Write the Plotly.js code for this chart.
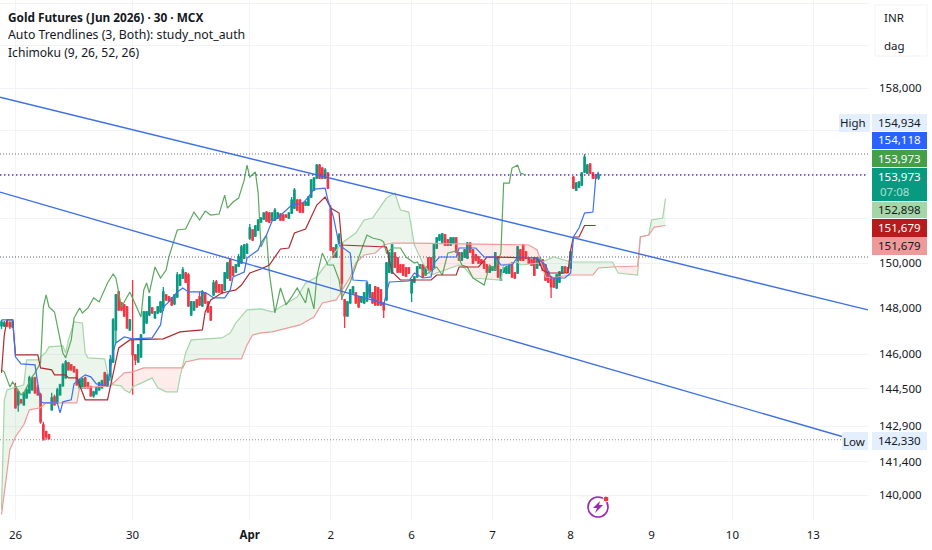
<!DOCTYPE html>
<html><head><meta charset="utf-8">
<script src="https://cdn.plot.ly/plotly-3.0.1.min.js"></script>
<style>html,body{margin:0;padding:0;background:#fff;overflow:hidden}#c{width:932px;height:550px}</style>
</head><body><div id="c"></div>
<script>
// ---- candles, one entry per 30-minute bar ----
const opens=[147223,147223,147397,147353,147180,144584,143815,144028,143815,144114,144327,144455,144970,144541,144241,142965,142669,142542,143602,144156,143900,144241,144627,144970,145616,145530,145444,145315,144541,144541,144970,144755,144584,144198,144284,144455,144541,145185,144627,144884,145659,147049,148715,148231,148143,148055,147049,146613,145962,145659,145876,146918,147354,147704,148011,147573,147792,147836,148011,148583,148495,148451,148187,148495,149024,149334,149556,149467,147704,147924,148363,148495,148099,148671,148275,148055,148583,149157,149024,149024,148804,149334,150133,149822,149600,149866,150000,150222,150445,151117,151476,151206,151476,151836,151971,152286,152241,151926,151926,152016,152196,152151,152151,152016,152241,152467,152830,152830,152694,152603,152603,152966,153284,153830,154424,154287,153830,154059,152467,150669,150267,150892,150892,148363,147660,148231,148671,148671,148495,148275,148231,148319,148495,148671,148936,148892,148804,148231,148363,149600,149556,150445,150222,149911,149911,149778,149778,148671,149157,149379,149778,149911,149467,150222,150222,149822,150669,151027,150937,151251,151027,150803,150892,151117,150445,150133,150267,150222,150892,150580,150356,150267,150133,150044,149911,149600,149689,149689,150267,149245,149600,149556,149556,150000,149556,149556,150580,150803,150490,150222,150133,150222,149778,149911,150133,149911,149600,149379,149334,148892,149157,149556,149822,149778,149778,153876,153284,153420,153511,154105,154059,154470,154059,153967,153830];
const highs=[147485,147440,147485,147440,147485,144755,144455,144070,144370,144584,145056,145013,145013,144670,144327,143092,142711,142584,144327,144241,144541,144712,145616,145746,145659,145573,145487,145358,144927,144970,145013,144798,144627,144412,144584,144798,144884,145229,145185,145962,147573,148627,148760,148275,148187,148099,147529,149245,146005,146440,146875,147880,147880,148539,148055,147880,148099,148319,148936,148627,148539,148495,148627,149600,149511,149822,149600,149556,148319,148319,148407,148715,148804,148715,148319,148099,149245,149245,149068,149068,149600,150044,150222,149866,149955,150400,150803,150848,150892,151746,151521,151700,151971,152061,152286,152331,152286,152286,152467,152286,152241,152196,152196,152286,152966,153375,152875,152875,152739,152784,153011,153784,153876,154470,154470,154333,154287,154105,152603,150714,150848,151341,150937,148407,148319,148848,148980,148715,148539,148539,148715,149157,149068,148715,148980,148936,148848,148275,150044,150490,150848,150490,150267,149955,149955,149822,149822,149290,149423,149866,149955,149955,149866,150267,150267,150848,151162,151296,151341,151296,151072,151162,151162,151162,150490,150490,150625,150937,150937,150625,150400,150311,150178,150089,149955,149866,149866,150490,150311,149733,149822,149866,149955,150044,149600,150758,150625,150848,150535,150267,150178,150267,150267,150267,150178,149955,149645,149423,149379,149511,149645,149866,149866,149822,150535,153921,153648,153693,154105,154934,154470,154516,154105,154014,154059];
const lows=[147092,147180,147180,147092,147136,143645,143517,143858,143772,144070,144284,144412,144284,144198,143007,142331,142331,142330,143560,143772,143858,144198,144584,144927,145272,145272,145186,144627,144498,144498,144498,144498,144156,144114,144241,144412,144498,144627,144584,144841,145616,146483,147880,147880,147616,147092,147005,144241,145530,145616,145833,146875,147310,147660,147748,147529,147748,147792,147880,148319,148275,148099,148143,148451,148980,149290,149113,148055,147660,147880,148011,148099,148055,148187,147792,147441,148539,148671,148671,148627,148760,149290,149201,149423,149556,149822,149955,150178,150400,151027,150983,151162,151431,151791,151926,151836,151791,151881,151881,151971,151881,151881,152016,151971,152196,152422,152331,152241,152241,152558,152558,152920,153239,153785,153785,153785,153785,153330,150535,150222,150222,150848,148363,147136,147616,148187,148627,148187,148011,148231,148187,148275,148451,148187,148099,148099,148099,147573,148319,149556,149512,149778,149556,149556,149423,149379,149512,148275,149113,149334,149733,149334,149423,149645,149645,149778,150625,150983,150892,150759,150759,150759,150848,150445,150089,150089,150222,150178,150445,149955,150089,149955,149955,149733,149556,149556,149645,149645,149334,149201,149556,149512,149512,149334,149290,149512,150089,150089,150178,149955,149866,149423,149733,149866,149645,149201,149113,148451,148892,148848,149113,149512,149556,149556,149733,153330,153239,153375,153466,154059,154014,154014,153785,153785,153739];
const closes=[147397,147353,147223,147180,147397,143687,144370,143900,144327,144455,144970,144970,144327,144241,143092,142331,142458,142373,144114,143815,144455,144670,145530,145659,145315,145315,145229,144670,144884,144927,144541,144541,144198,144370,144541,144755,144841,144670,145099,145746,147485,148583,147924,147924,147660,147136,147485,145962,145746,146396,146831,147836,147836,148495,147792,147836,148055,148275,148715,148363,148319,148143,148583,149467,149467,149689,149157,148099,148275,148275,148055,148143,148715,148231,147836,147485,149112,148715,148715,148671,149556,150000,149245,149467,149911,150267,150714,150803,150803,151566,151027,151656,151926,152016,152241,151881,151836,152241,152377,152241,151926,151926,152061,152241,152830,153284,152377,152286,152286,152739,152966,153739,153830,154424,153830,153830,154196,153375,150580,150267,150803,151251,149112,147660,148275,148804,148936,148231,148055,148495,148671,149112,149024,148231,148143,148143,148143,147924,150000,150445,150803,149822,149600,149600,149467,149423,149556,149245,149379,149822,149911,149379,149822,149689,149689,150803,151117,151251,151296,150803,150803,151117,151117,150490,150133,150445,150580,150892,150490,150000,150133,150000,150000,149778,149600,149822,149822,150445,149379,149689,149778,149822,149911,149379,149334,150714,150133,150133,150222,150000,149911,149467,150222,150222,149689,149245,149157,148936,148936,149467,149600,149822,149600,149600,150490,153375,153602,153648,154059,154790,154424,154059,153830,153830,153973];

// ---- Ichimoku lines: bar number and price ----
const tenkanBars=[0,4,5,7,12,13,14,15,20,21,22,25,26,28,30,32,34,38,39,40,41,44,47,54,57,58,60,63,65,67,72,74,76,80,82,83,87,88,92,93,95,97,99,104,108,110,112,116,117,119,121,122,125,126,131,132,137,138,139,146,148,151,154,155,157,163,164,170,173,177,179,183,185,192,195,197,202,204,205,207,209,212,213,214];
const tenkanPrices=[147485,147485,145876,145573,145530,144755,143943,143900,143900,143474,143943,144028,144712,144927,145099,145013,144712,144627,145315,146092,146483,146744,146657,146700,147267,148055,148275,148715,148892,148715,148715,148627,148451,148451,148804,149379,149600,150222,150580,150892,151251,151881,152016,152603,152694,152966,153330,153375,152830,152061,150803,150714,150445,149245,149201,148495,148143,148671,149157,149201,149556,149334,149379,150000,150267,150267,150669,150669,150267,150267,149911,149911,150267,150222,149911,149334,149334,149556,151162,151566,152241,152286,153830,154118];
const kijunBars=[0,1,2,4,5,13,14,18,19,23,24,27,30,38,39,41,42,46,58,64,72,73,75,79,84,86,89,90,93,96,100,103,105,109,113,116,118,121,122,138,140,143,154,156,163,164,171,174,192,194,196,203,204,205,207,209,213];
const kijunPrices=[145185,146831,147485,147485,145962,145962,145401,145315,145099,145099,144970,144970,144028,144028,144584,145616,146266,146613,146657,146962,147049,147836,148363,148671,148804,149024,149556,149600,149733,149911,150625,150669,151341,151521,152603,152966,152467,152241,150803,150714,149600,149245,149245,149467,149467,149822,149822,150267,150222,149689,149556,149556,150580,151162,151162,151679,151679];
const chikouBars=[0,1,3,4,7,8,11,12,14,15,16,17,19,20,22,23,25,26,28,29,31,33,35,38,40,41,42,43,44,46,50,51,52,53,55,57,59,60,63,66,69,71,73,75,78,80,81,83,85,87,88,89,91,92,93,95,96,98,100,102,104,106,109,110,112,113,115,117,119,121,122,125,129,131,133,136,137,138,140,143,145,148,149,152,156,158,160,163,165,167,169,173,175,177,179,180,182,183,185,186,188];
const chikouPrices=[145315,145229,144584,144798,144241,144327,145013,145185,145616,148055,148583,148055,147836,147267,146048,145833,146613,147573,148011,147792,148011,148451,148275,149112,149511,149334,148671,148055,148275,148715,147616,148804,149112,148671,149822,149334,149689,150267,151476,151521,152286,151926,152331,152151,152196,153057,152467,152739,152920,153739,154424,153876,154105,153148,150714,151251,149556,147792,148892,148143,148495,148892,148231,148892,147968,149379,150445,149911,149911,149245,148451,149157,150580,151251,151117,151027,150937,150445,150669,150669,150267,150000,150044,149467,149822,149467,150445,150535,149911,149822,149334,149024,149911,149689,150445,153602,153602,154287,154424,154059,153973];
const spanABars=[0,1,2,8,9,13,16,17,22,23,24,26,29,30,31,37,38,40,43,44,46,47,51,54,56,59,63,64,66,68,79,82,84,88,93,97,106,109,113,122,127,130,133,138,141,143,146,148,151,154,164,166,169,179,180,185,186,193,198,204,213,219,221,228,229,232,233,237,238];
const spanAPrices=[139411,144028,144455,144670,145746,145746,146092,146309,146353,146048,146613,147397,147353,146048,145833,145790,145186,144670,144627,144455,144327,144584,144798,144970,144541,144370,144370,145013,146048,146613,146700,146918,147353,147924,147968,147836,148495,149112,149379,150892,151341,151926,152016,152920,153148,152377,152286,150803,150000,149467,149911,149778,149334,149245,149911,150044,149911,150000,150267,150044,150044,150044,149556,149467,151162,151251,151926,152016,152898];
const spanBBars=[0,3,5,8,10,14,16,27,28,39,44,47,51,65,66,71,86,88,90,93,97,107,112,115,120,125,127,130,134,137,140,148,189,192,194,195,197,204,212,214,219,228,229,232,234,238];
const spanBPrices=[139205,141910,142458,142965,143602,143687,143900,143900,144541,144627,145186,145229,145401,145401,145659,145790,145790,146396,146831,146918,146962,147267,147616,148231,148363,149379,150000,150356,150445,150803,150892,150892,150803,150580,149778,149379,149334,149467,149467,149778,149822,149866,151162,151251,151610,151679];

// ---- trend lines and price levels ----
const trendBars=[-0.54,310.6];
const upperTrend=[157569,147924];
const lowerTrendBars=[-0.54,301.6];
const lowerTrend=[153193,142457];
const levelHigh=154934, levelLast=153973, levelPrev=150267, levelLow=142330;

// ---- axes ----
const priceTicks=[162000,160000,158000,156000,154000,152000,150000,148000,146000,144500,142900,141400,140000];
const priceTickLabels=['','','158,000','','','','150,000','148,000','146,000','144,500','142,900','141,400','140,000'];
const dateTicks=[5,47,89,118,147,176,204,233,262,291];
const dateLabels=['26','30','<b>Apr</b>','2','6','7','8','9','10','13'];

// ---- legend ----
const legendLines=['<b>Gold Futures (Jun 2026) · 30 · MCX</b>','Auto Trendlines (3, Both): study_not_auth','Ichimoku (9, 26, 52, 26)'];
const legendSizes=[11.8,12.3,12.1];

const W=868,H=520;
const X=p=>p/W, Y=p=>1-p/H;
const FONT='"Noto Sans", sans-serif';
const ink='#131722';

const barIndex=opens.map((_,i)=>i);
const traces=[];

// cloud fill between the two spans, split where they cross
function at(xs,ys,x){
  if(x<=xs[0])return ys[0];
  for(let i=1;i<xs.length;i++){ if(x<=xs[i]){const t=(x-xs[i-1])/(xs[i]-xs[i-1]);return ys[i-1]*(1-t)+ys[i]*t;} }
  return ys[ys.length-1];
}
const cloudX=[...new Set([...spanABars,...spanBBars])].sort((a,b)=>a-b);
let seg=null;
function flush(){
  if(!seg)return;
  traces.push({type:'scatter',mode:'lines',x:seg.x.concat(seg.x.slice().reverse()),y:seg.a.concat(seg.b.slice().reverse()),
    fill:'toself',fillcolor:seg.up?'rgba(67,160,71,0.10)':'rgba(244,67,54,0.10)',line:{width:0},hoverinfo:'skip',showlegend:false});
  seg=null;
}
for(let k=0;k<cloudX.length;k++){
  const x=cloudX[k],a=at(spanABars,spanAPrices,x),b=at(spanBBars,spanBPrices,x),up=a>=b;
  if(seg&&seg.up!==up){
    seg.x.push(x);seg.a.push((a+b)/2);seg.b.push((a+b)/2);flush();
    seg={up,x:[x],a:[(a+b)/2],b:[(a+b)/2]};
  }
  if(!seg)seg={up,x:[],a:[],b:[]};
  seg.x.push(x);seg.a.push(a);seg.b.push(b);
}
flush();

function line(x,y,color,width,dash){
  traces.push({type:'scatter',mode:'lines',x,y,line:{color,width,dash:dash||'solid',shape:'linear'},hoverinfo:'skip',showlegend:false});
}
const fullX=[-0.54,310.6];
line(fullX,[levelHigh,levelHigh],'#6b6f7a',1,'1px,2px');
line(fullX,[levelPrev,levelPrev],'#5b5f6a',1,'1px,2px');
line(lowerTrendBars,[levelLow,levelLow],'#8a8e98',1,'1px,2px');
line(fullX,[levelLast,levelLast],'#5a2fb0',1.4,'1.4px,2.6px');

traces.push({type:'candlestick',x:barIndex,open:opens,high:highs,low:lows,close:closes,whiskerwidth:0,
  increasing:{line:{color:'#089981',width:1.3},fillcolor:'#089981'},
  decreasing:{line:{color:'#f23645',width:1.3},fillcolor:'#f23645'},hoverinfo:'skip',showlegend:false,xaxis:'x',yaxis:'y'});

line(spanABars,spanAPrices,'#a5d6a7',1.2);
line(spanBBars,spanBPrices,'#ef9a9a',1.2);
line(chikouBars,chikouPrices,'#5aa85e',1.2);
line(kijunBars,kijunPrices,'#b02a30',1.2);
line(tenkanBars,tenkanPrices,'#3d6fee',1.2);
line(trendBars,upperTrend,'#3d6fe8',1.4);
line(lowerTrendBars,lowerTrend,'#3d6fe8',1.4);

const shapes=[],ann=[];
function box(x0,y0,x1,y1,fill,border){
  shapes.push({type:'rect',xref:'paper',yref:'paper',x0:X(x0),x1:X(x1),y0:Y(y1),y1:Y(y0),fillcolor:fill,line:{width:border?1:0,color:border||fill},layer:'above'});
}
function txt(x,y,text,color,anchor,size){
  ann.push({xref:'paper',yref:'paper',x:X(x),y:Y(y),text,showarrow:false,xanchor:anchor||'right',yanchor:'middle',
    font:{family:FONT,size:size||11.5,color:color||ink},xshift:0,yshift:0,borderpad:0,borderwidth:0});
}
// legend
[17,35,53].forEach((py,i)=>txt(8,py,legendLines[i],ink,'left',legendSizes[i]));
// currency / unit box
box(875,5,927,56,'#ffffff','#f0f3fa');
txt(884,18,'INR',ink,'left',11.5);
txt(884,45,'dag',ink,'left',11.5);
// badges
box(839,114,870,132,'#e3effd');txt(866,122,'High');
box(872,114,927,131,'#e3effd');txt(921,122,'154,934');
box(872,132,927,149,'#2962ff');txt(921,140,'154,118','#ffffff');
box(872,150,927,167,'#43a047');txt(921,158,'153,973','#ffffff');
box(872,168,927,201,'#089981');txt(921,176,'153,973','#ffffff');txt(880,191,'07:08','#a8e0d2','left');
box(872,202,927,218,'#a5d6a7');txt(921,209,'152,898',ink);
box(872,219,927,237,'#b71c1c');txt(921,227,'151,679','#ffffff');
box(872,237,927,255,'#ef9a9a');txt(921,245,'151,679',ink);
box(842,432,868,450,'#e3effd');txt(865,441,'Low');
box(872,432,927,450,'#e3effd');txt(921,440,'142,330');
// lightning mark
const cx=598,cy=507,r=10;
shapes.push({type:'circle',xref:'paper',yref:'paper',x0:X(cx-r),x1:X(cx+r),y0:Y(cy+r),y1:Y(cy-r),line:{color:'#9c27b0',width:1.6},fillcolor:'#ffffff',layer:'above'});
const bolt=[[600,501],[593,508],[597,508],[595,513],[603,505],[599,505]];
shapes.push({type:'path',xref:'paper',yref:'paper',path:'M '+bolt.map(p=>X(p[0])+' '+Y(p[1])).join(' L ')+' Z',fillcolor:'#9c27b0',line:{width:0},layer:'above'});
shapes.push({type:'circle',xref:'paper',yref:'paper',x0:X(603),x1:X(609),y0:Y(502),y1:Y(496),line:{width:1,color:'#ffffff'},fillcolor:'#f23645',layer:'above'});

Plotly.newPlot('c',traces,{
  width:932,height:550,margin:{l:0,r:64,t:0,b:30,pad:0},
  paper_bgcolor:'#ffffff',plot_bgcolor:'#ffffff',showlegend:false,dragmode:false,hovermode:false,
  font:{family:FONT,size:11.5,color:ink},
  xaxis:{type:'linear',range:[-0.54,310.6],rangeslider:{visible:false},tickmode:'array',tickvals:dateTicks,ticktext:dateLabels,
    showgrid:true,gridcolor:'#f0f3fa',gridwidth:1,zeroline:false,showline:false,ticks:'',ticklabelstandoff:6,tickangle:0,
    tickfont:{family:FONT,size:11.5,color:ink},automargin:false},
  yaxis:{type:'log',side:'right',range:[5.142951,5.210004],tickmode:'array',tickvals:priceTicks,ticktext:priceTickLabels,
    showgrid:true,gridcolor:'#f0f3fa',gridwidth:1,zeroline:false,showline:false,ticks:'',ticklabelstandoff:10,
    tickfont:{family:FONT,size:11.5,color:ink},automargin:false},
  shapes,annotations:ann
},{staticPlot:true,displayModeBar:false});
</script></body></html>
